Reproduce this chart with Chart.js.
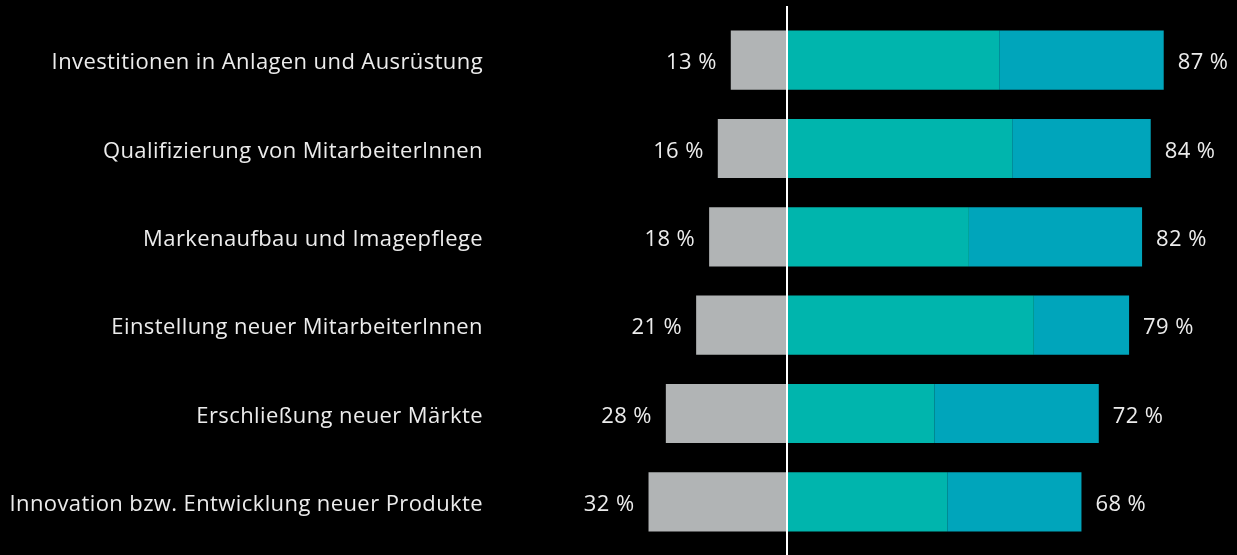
<!DOCTYPE html>
<html lang="de">
<head>
    <meta charset="UTF-8">
    <script src="https://cdn.jsdelivr.net/npm/chart.js"></script>
    <title>Investitionen</title>
    <style>
        html, body { margin: 0; padding: 0; background: #000; }
        #wrap { width: 1237px; height: 555px; }
    </style>
</head>
<body>
<div id="wrap"><canvas id="myChart"></canvas></div>

<script>
    // data block
    const categories = [
        'Investitionen in Anlagen und Ausrüstung',
        'Qualifizierung von MitarbeiterInnen',
        'Markenaufbau und Imagepflege',
        'Einstellung neuer MitarbeiterInnen',
        'Erschließung neuer Märkte',
        'Innovation bzw. Entwicklung neuer Produkte'
    ];
    const noValues = [13, 16, 18, 21, 28, 32];      // gray, drawn to the left
    const partA = [49, 52, 42, 57, 34, 37];          // teal
    const partB = [38, 32, 40, 22, 38, 31];          // blue
    const yesTotals = [87, 84, 82, 79, 72, 68];      // labels on the right

    const textColor = '#ececec';
    const fontFamily = '"Open Sans", "Noto Sans", sans-serif';
    const fontSize = 22;

    // slightly wider letter spacing like the original
    const spacing = {
        id: 'spacing',
        beforeDraw(chart) { chart.ctx.letterSpacing = '0.4px'; }
    };

    // percent labels next to the bars
    const labelPlugin = {
        id: 'pctLabels',
        afterDatasetsDraw(chart) {
            const ctx = chart.ctx;
            ctx.save();
            ctx.font = fontSize + 'px ' + fontFamily;
            ctx.fillStyle = textColor;
            ctx.textBaseline = 'middle';
            const grayMeta = chart.getDatasetMeta(0);
            const blueMeta = chart.getDatasetMeta(2);
            grayMeta.data.forEach((bar, i) => {
                ctx.textAlign = 'right';
                ctx.fillText(noValues[i] + ' %', bar.x - 14, bar.y + 3);
            });
            blueMeta.data.forEach((bar, i) => {
                ctx.textAlign = 'left';
                ctx.fillText(yesTotals[i] + ' %', bar.x + 14, bar.y + 3);
            });
            ctx.restore();
        }
    };

    // white zero line
    const zeroLine = {
        id: 'zeroLine',
        afterDatasetsDraw(chart) {
            const x = Math.round(chart.scales.x.getPixelForValue(0));
            const ctx = chart.ctx;
            ctx.save();
            ctx.strokeStyle = '#ffffff';
            ctx.lineWidth = 2;
            ctx.beginPath();
            ctx.moveTo(x, 6);
            ctx.lineTo(x, chart.height);
            ctx.stroke();
            ctx.restore();
        }
    };

    const data = {
        labels: categories,
        datasets: [
            { label: 'nein', data: noValues.map(v => -v), backgroundColor: '#b1b4b5' },
            { label: 'teil', data: partA, backgroundColor: '#00b5ad' },
            { label: 'ja', data: partB, backgroundColor: '#00a5bb' }
        ]
    };

    const config = {
        type: 'bar',
        data: data,
        options: {
            indexAxis: 'y',
            responsive: true,
            maintainAspectRatio: false,
            animation: false,
            layout: { padding: { top: 16, bottom: 9, right: 17, left: 0 } },
            datasets: {
                bar: { categoryPercentage: 0.67, barPercentage: 1, borderWidth: 0 }
            },
            plugins: {
                legend: { display: false },
                tooltip: { enabled: false }
            },
            scales: {
                x: {
                    stacked: true,
                    min: -70,
                    max: 100,
                    display: false
                },
                y: {
                    stacked: true,
                    grid: { display: false, drawTicks: false },
                    border: { display: false },
                    afterFit(scale) {
                        scale.width = 484;
                        scale.paddingTop = 0;
                        scale.paddingBottom = 0;
                    },
                    ticks: {
                        padding: 1,
                        labelOffset: 3,
                        color: textColor,
                        font: { family: fontFamily, size: fontSize }
                    }
                }
            }
        },
        plugins: [spacing, labelPlugin, zeroLine]
    };

    const myChart = new Chart(document.getElementById('myChart'), config);
</script>
</body>
</html>
